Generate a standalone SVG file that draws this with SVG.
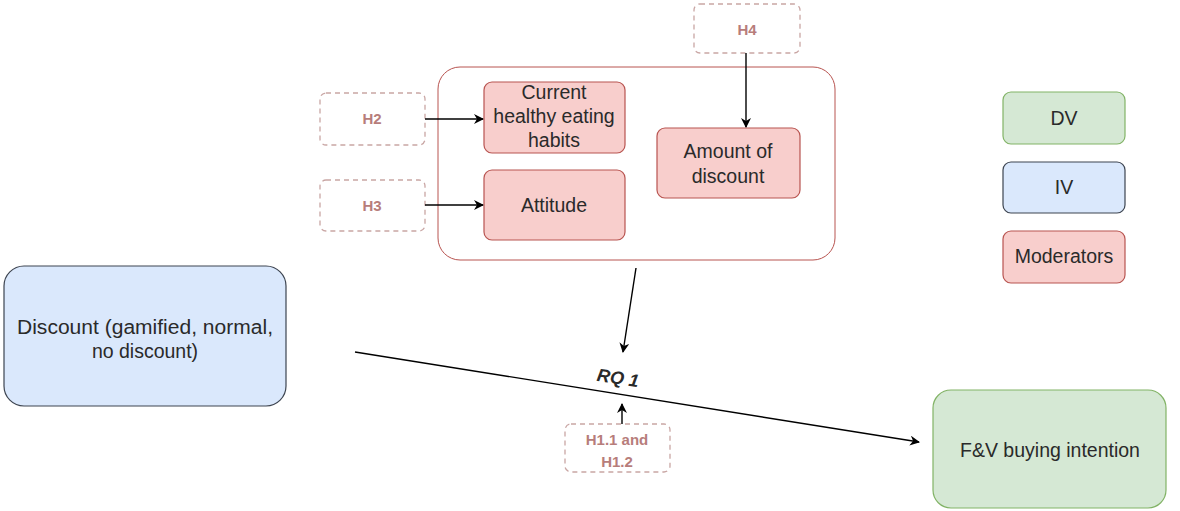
<svg xmlns="http://www.w3.org/2000/svg" width="1180" height="511" viewBox="0 0 1180 511">
<defs>
<marker id="ah" viewBox="0 0 10 10" refX="9" refY="5" markerWidth="10" markerHeight="10" markerUnits="userSpaceOnUse" orient="auto">
<path d="M0,0 L10,5 L0,10 L3,5 Z" fill="#000"/>
</marker>
<style>
text{font-family:"Liberation Sans",Arial,sans-serif;fill:#2a2a2a;text-anchor:middle}
.mod{fill:#f8cecc;stroke:#b85450;stroke-width:1.2}
.iv{fill:#dae8fc;stroke:#3d4450;stroke-width:1.2}
.dv{fill:#d5e8d4;stroke:#82b366;stroke-width:1.2}
.hyp{fill:#fff;stroke:#c9a6a4;stroke-width:1.3;stroke-dasharray:5 4}
.ht{font-weight:bold;font-size:15px;fill:#b77d7b}
.t{font-size:19.5px}
.c{fill:none;stroke:#000;stroke-width:1.4;marker-end:url(#ah)}
</style>
</defs>
<rect width="1180" height="511" fill="#fff"/>
<g id="container"><rect x="438" y="67" width="397" height="193" rx="22" fill="#fff" stroke="#b85450" stroke-width="1"/></g>
<g id="h4"><rect class="hyp" x="694" y="4" width="106" height="49" rx="6"/><text class="ht" x="747" y="35">H4</text></g>
<g id="h2"><rect class="hyp" x="320" y="93" width="105" height="52" rx="6"/><text class="ht" x="372" y="124">H2</text></g>
<g id="h3"><rect class="hyp" x="320" y="180" width="105" height="51" rx="6"/><text class="ht" x="372" y="211">H3</text></g>
<g id="h1"><rect class="hyp" x="565" y="424" width="105" height="48" rx="6"/><text class="ht" x="617" y="445">H1.1 and</text><text class="ht" x="617" y="467">H1.2</text></g>
<g id="habits"><rect class="mod" x="484" y="82" width="141" height="71" rx="8"/><text class="t" x="554" y="99">Current</text><text class="t" x="554" y="123">healthy eating</text><text class="t" x="554" y="147">habits</text></g>
<g id="attitude"><rect class="mod" x="484" y="170" width="141" height="70" rx="8"/><text class="t" x="554" y="212">Attitude</text></g>
<g id="amount"><rect class="mod" x="657" y="128" width="143" height="70" rx="8"/><text class="t" x="728" y="158">Amount of</text><text class="t" x="728" y="183">discount</text></g>
<g id="discount"><rect class="iv" x="4" y="266" width="282" height="140" rx="20"/><text class="t" x="145" y="334" textLength="256" lengthAdjust="spacingAndGlyphs">Discount (gamified, normal,</text><text class="t" x="145" y="358">no discount)</text></g>
<g id="fv"><rect class="dv" x="933" y="390" width="233" height="118" rx="18"/><text class="t" x="1050" y="457">F&amp;V buying intention</text></g>
<g id="legend-dv"><rect class="dv" x="1003" y="92" width="122" height="52" rx="8"/><text class="t" x="1064" y="125">DV</text></g>
<g id="legend-iv"><rect class="iv" x="1003" y="162" width="122" height="51" rx="8"/><text class="t" x="1064" y="194">IV</text></g>
<g id="legend-mod"><rect class="mod" x="1003" y="231" width="122" height="52" rx="8"/><text class="t" x="1064" y="263">Moderators</text></g>
<g id="connectors">
<line class="c" x1="425" y1="119" x2="483" y2="119"/>
<line class="c" x1="425" y1="205" x2="483" y2="205"/>
<line class="c" x1="746" y1="53" x2="746" y2="127"/>
<line class="c" x1="636" y1="268" x2="623" y2="352"/>
<line class="c" x1="355" y1="352" x2="919" y2="442"/>
<line class="c" x1="622" y1="424" x2="622" y2="404"/>
<text x="618" y="384" font-size="18" font-weight="bold" font-style="italic" transform="rotate(9 618 378)">RQ 1</text>
</g>
</svg>
